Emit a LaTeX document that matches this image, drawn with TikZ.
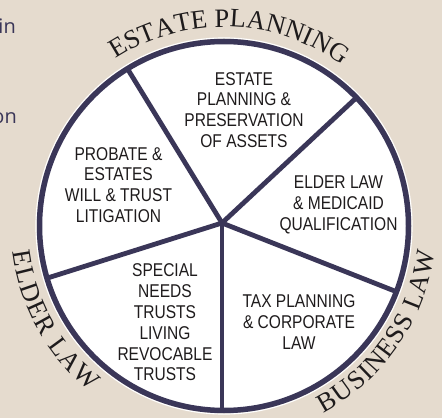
\documentclass[tikz,border=0pt]{standalone}
\usepackage{fontspec}
\usetikzlibrary{decorations.text,calc}
\newfontfamily\condfont[FakeStretch=0.84]{Liberation Sans}
\newfontfamily\arcserif{Liberation Serif}
\newfontfamily\sidefont{Open Sans}
\definecolor{bg}{HTML}{E5DBCE}
\definecolor{navy}{HTML}{3A3658}
\definecolor{ink}{HTML}{1E1B1C}
\newcommand\slicefont{\condfont\fontsize{18.5}{20.8}\selectfont}
\newcommand\myarcfont{\arcserif\fontsize{26.5}{26.5}\selectfont}
\begin{document}
\begin{tikzpicture}[x=1pt,y=1pt,
  slicetext/.style={align=center, font=\slicefont, text=ink, inner sep=0pt},
  arctext/.style={decorate, decoration={text along path, text align={fit to path}, text color=ink}},
  spoke/.style={line width=4.8pt, draw=navy},
  sidetext/.style={anchor=base east, font=\sidefont\fontsize{20}{20}\selectfont, text=navy, inner sep=0pt}]
\fill[bg] (0,0) rectangle (442,418);
\useasboundingbox (0,0) rectangle (442,418);
\coordinate (C) at (224,192);
\coordinate (H) at (222,195);
\fill[white] (C) circle (184.5);
\begin{scope}
  \clip (C) circle (184.5);
  \foreach \a [count=\i] in {121.5,43,-21.5,-90,197.5} {
    \coordinate (s\i) at ($(H)+(\a:260)$);
    \draw[spoke] (H) -- (s\i);
  }
\end{scope}
\draw[white, line width=1.2pt] (C) circle (188);
\draw[navy, line width=5.5pt] (C) circle (184.5);
% slice texts
\node[slicetext] (estate) at (244,308) {ESTATE\\PLANNING \&\\PRESERVATION\\OF ASSETS};
\node[slicetext] (probate) at (118.5,233) {PROBATE \&\\ESTATES\\WILL \& TRUST\\LITIGATION};
\node[slicetext] (elder) at (338.5,213) {ELDER LAW\\\& MEDICAID\\QUALIFICATION};
\node[slicetext] (special) at (165,95.5) {SPECIAL\\NEEDS\\TRUSTS\\LIVING\\REVOCABLE\\TRUSTS};
\node[slicetext] (tax) at (299,96) {TAX PLANNING\\\& CORPORATE\\LAW};
% curved labels
\path[arctext, decoration={text={|\myarcfont|ESTATE PLANNING}}]
  ($(C)+(123:199)$) arc[start angle=123, end angle=55, radius=199];
\path[arctext, decoration={text={|\myarcfont|ELDER LAW}}]
  ($(C)+(187:213)$) arc[start angle=187, end angle=231, radius=213];
\path[arctext, decoration={text={|\myarcfont|BUSINESS LAW}}]
  ($(C)+(-62:212)$) arc[start angle=-62, end angle=-7, radius=212];
% cut-off side texts
\node[sidetext] (in) at (16,384) {in};
\node[sidetext] (on) at (17,294) {on};
\end{tikzpicture}
\end{document}
